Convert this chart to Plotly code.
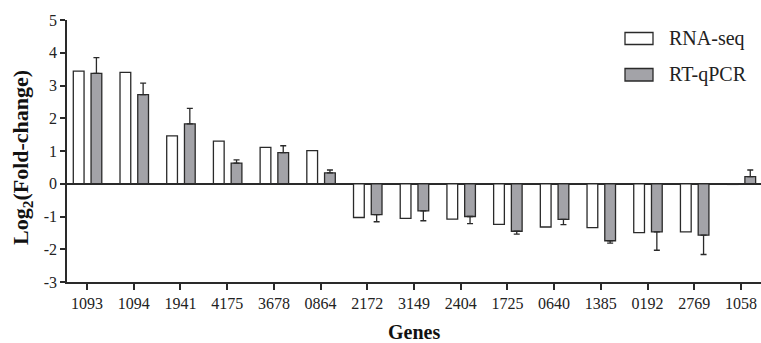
import plotly.graph_objects as go

genes = ["1093", "1094", "1941", "4175", "3678", "0864", "2172", "3149",
         "2404", "1725", "0640", "1385", "0192", "2769", "1058"]
rna_seq = [3.44, 3.40, 1.46, 1.30, 1.11, 1.01, -1.03, -1.06,
           -1.08, -1.24, -1.32, -1.34, -1.49, -1.47, -0.02]
rt_qpcr = [3.37, 2.72, 1.83, 0.63, 0.95, 0.33, -0.94, -0.83,
           -1.00, -1.45, -1.09, -1.74, -1.47, -1.57, 0.22]
rt_qpcr_err = [0.48, 0.35, 0.47, 0.10, 0.21, 0.09, 0.22, 0.30,
               0.22, 0.09, 0.16, 0.07, 0.56, 0.59, 0.20]
y_ticks = [-3, -2, -1, 0, 1, 2, 3, 4, 5]
y_tick_labels = ["-3", "-2", "-1", "0", "1", "2", "3", "4", "5"]

W, H = 761, 343
ML, MR, MT, MB = 67, 0, 20, 61
PW, PH = W - ML - MR, H - MT - MB

def px(x):
    return (x - ML) / PW

def py(y):
    return (H - MB - y) / PH

FONT = "Liberation Serif"
DARK = "#2a2a2a"
GRAY = "#a3a3a8"

err_up = [e if v >= 0 else 0 for v, e in zip(rt_qpcr, rt_qpcr_err)]
err_down = [e if v < 0 else 0 for v, e in zip(rt_qpcr, rt_qpcr_err)]

fig = go.Figure()
fig.add_trace(go.Bar(
    x=genes, y=rna_seq, name="RNA-seq",
    width=0.23, offset=-0.295,
    marker=dict(color="white", line=dict(color=DARK, width=1.3)),
    showlegend=False,
))
fig.add_trace(go.Bar(
    x=genes, y=rt_qpcr, name="RT-qPCR",
    width=0.23, offset=0.085,
    marker=dict(color=GRAY, line=dict(color=DARK, width=1.3)),
    error_y=dict(type="data", symmetric=False, array=err_up, arrayminus=err_down,
                 color=DARK, thickness=1.3, width=3),
    showlegend=False,
))

shapes = []
annotations = []
# manual legend
legend_items = [("RNA-seq", "white", 32.5, 44.5), ("RT-qPCR", GRAY, 68.5, 81)]
for label, col, y0, y1 in legend_items:
    shapes.append(dict(type="rect", xref="paper", yref="paper",
                       x0=px(625), x1=px(653), y0=py(y1), y1=py(y0),
                       fillcolor=col, line=dict(color=DARK, width=1.3)))
    annotations.append(dict(text=label, xref="paper", yref="paper",
                            x=px(667), y=py((y0 + y1) / 2), xanchor="left", yanchor="middle",
                            showarrow=False, font=dict(family=FONT, size=20, color="#222")))

annotations.append(dict(text="<b>Genes</b>", xref="paper", yref="paper",
                        x=px(414), y=py(332), xanchor="center", yanchor="middle",
                        showarrow=False, font=dict(family=FONT, size=20, color="#111")))
annotations.append(dict(text="<b>Log<sub>2</sub>(Fold-change)</b>", xref="paper", yref="paper",
                        x=px(22), y=py(158), xanchor="center", yanchor="middle", textangle=-90,
                        showarrow=False, font=dict(family=FONT, size=22, color="#111")))

fig.update_layout(
    width=W, height=H,
    margin=dict(l=ML, r=MR, t=MT, b=MB, pad=0),
    paper_bgcolor="white", plot_bgcolor="white",
    barmode="overlay",
    shapes=shapes, annotations=annotations,
    showlegend=False,
    font=dict(family=FONT, size=16, color="#222"),
    xaxis=dict(
        type="category", range=[-0.43, 14.43],
        showgrid=False, zeroline=False,
        showline=True, linecolor=DARK, linewidth=1.5,
        ticks="outside", ticklen=6, tickwidth=1.5, tickcolor=DARK,
        tickfont=dict(family=FONT, size=16, color="#222"),
        fixedrange=True,
    ),
    yaxis=dict(
        range=[-3, 5], tickvals=y_ticks, ticktext=y_tick_labels,
        showgrid=False,
        zeroline=True, zerolinecolor=DARK, zerolinewidth=1.5,
        showline=True, linecolor=DARK, linewidth=1.5,
        ticks="outside", ticklen=5, tickwidth=1.5, tickcolor=DARK,
        tickfont=dict(family=FONT, size=16, color="#222"),
        fixedrange=True,
    ),
)

fig.write_html("out.html", config={"displayModeBar": False})
